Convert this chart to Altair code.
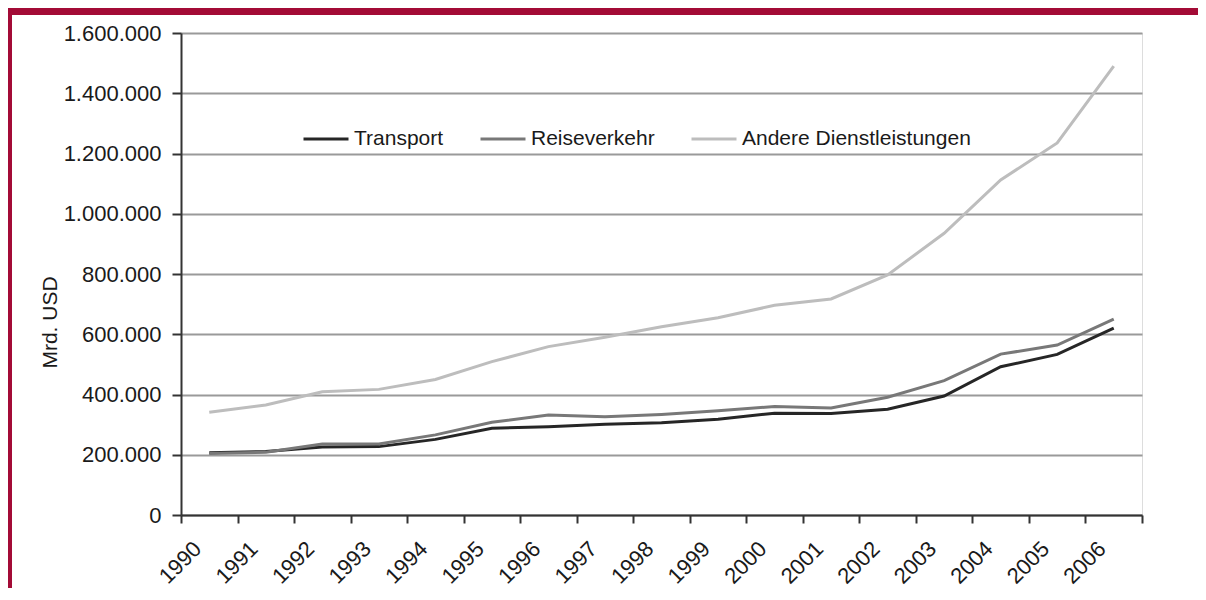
import altair as alt
import pandas as pd

years = ["1990", "1991", "1992", "1993", "1994", "1995", "1996", "1997", "1998",
         "1999", "2000", "2001", "2002", "2003", "2004", "2005", "2006"]
transport = [207000, 211000, 226000, 227000, 251000, 288000, 293000, 301000, 306000,
             318000, 338000, 337000, 351000, 395000, 492000, 533000, 620000]
reiseverkehr = [204000, 208000, 236000, 236000, 266000, 308000, 332000, 326000, 334000,
                346000, 360000, 355000, 391000, 446000, 534000, 564000, 650000]
andere = [341000, 365000, 409000, 417000, 450000, 509000, 559000, 590000, 625000,
          655000, 696000, 717000, 797000, 935000, 1112000, 1235000, 1490000]
series_names = ["Transport", "Reiseverkehr", "Andere Dienstleistungen"]
series_colors = ["#262626", "#787878", "#bdbdbd"]
y_ticks = [0, 200000, 400000, 600000, 800000, 1000000, 1200000, 1400000, 1600000]

rows = []
for name, vals in zip(series_names, [transport, reiseverkehr, andere]):
    for yr, v in zip(years, vals):
        rows.append({"Jahr": yr, "Wert": v, "Serie": name, "order": series_names.index(name)})
df = pd.DataFrame(rows)

FONT = "Liberation Sans"
RED = "#a30b36"

lines = alt.Chart(df).mark_line(strokeWidth=3).encode(
    x=alt.X("Jahr:O", bandPosition=0.5,
            scale=alt.Scale(type="band", paddingInner=0, paddingOuter=0),
            axis=alt.Axis(title=None, tickBand="extent", labelAngle=-45,
                          labelAlign="right", labelBaseline="middle",
                          labelOffset=-12, labelPadding=22, tickSize=8,
                          tickColor="#333333", tickWidth=2,
                          domainColor="#333333", domainWidth=2,
                          labelFont=FONT, labelFontSize=22, labelColor="#1a1a1a",
                          grid=False)),
    y=alt.Y("Wert:Q", scale=alt.Scale(domain=[0, 1600000], nice=False),
            axis=alt.Axis(title="Mrd. USD", values=y_ticks,
                          labelExpr="join(split(format(datum.value, ','), ','), '.')",
                          labelFont=FONT, labelFontSize=22, labelColor="#1a1a1a",
                          labelPadding=11, tickSize=9, tickColor="#333333", tickWidth=2,
                          domainColor="#333333", domainWidth=2,
                          grid=True, gridColor="#9a9a9a", gridWidth=2,
                          titleFont=FONT, titleFontSize=21, titleFontWeight="normal",
                          titleColor="#1a1a1a", titleAngle=-90, titleX=-125, titleY=289,
                          titleBaseline="alphabetic", titleAlign="center")),
    color=alt.Color("Serie:N", sort=series_names,
                    scale=alt.Scale(domain=series_names, range=series_colors),
                    legend=alt.Legend(orient="none", legendX=121, legendY=82,
                                      direction="horizontal", title=None,
                                      symbolType="stroke", symbolSize=2025,
                                      symbolStrokeWidth=3, labelFont=FONT,
                                      labelFontSize=21, labelColor="#1a1a1a",
                                      columnPadding=30, labelLimit=400,
                                      symbolOffset=0)),
    order=alt.Order("order:Q", sort="descending"),
)

frame_data = alt.Data(values=[{"k": 1}])
top_band = alt.Chart(frame_data).mark_rect(color=RED).encode(
    x=alt.value(-173), x2=alt.value(1190 - 173), y=alt.value(-25), y2=alt.value(-18)
)
left_band = alt.Chart(frame_data).mark_rect(color=RED).encode(
    x=alt.value(-173), x2=alt.value(-169), y=alt.value(-25), y2=alt.value(580 - 25)
)

chart = alt.layer(lines, top_band, left_band).properties(
    width=961, height=482,
    autosize=alt.AutoSizeParams(type="none"),
    padding={"left": 173, "top": 25, "right": 56, "bottom": 73},
).configure_view(stroke=None).configure(background="white")

chart.save("out.html", embed_options={"renderer": "svg", "actions": False})
